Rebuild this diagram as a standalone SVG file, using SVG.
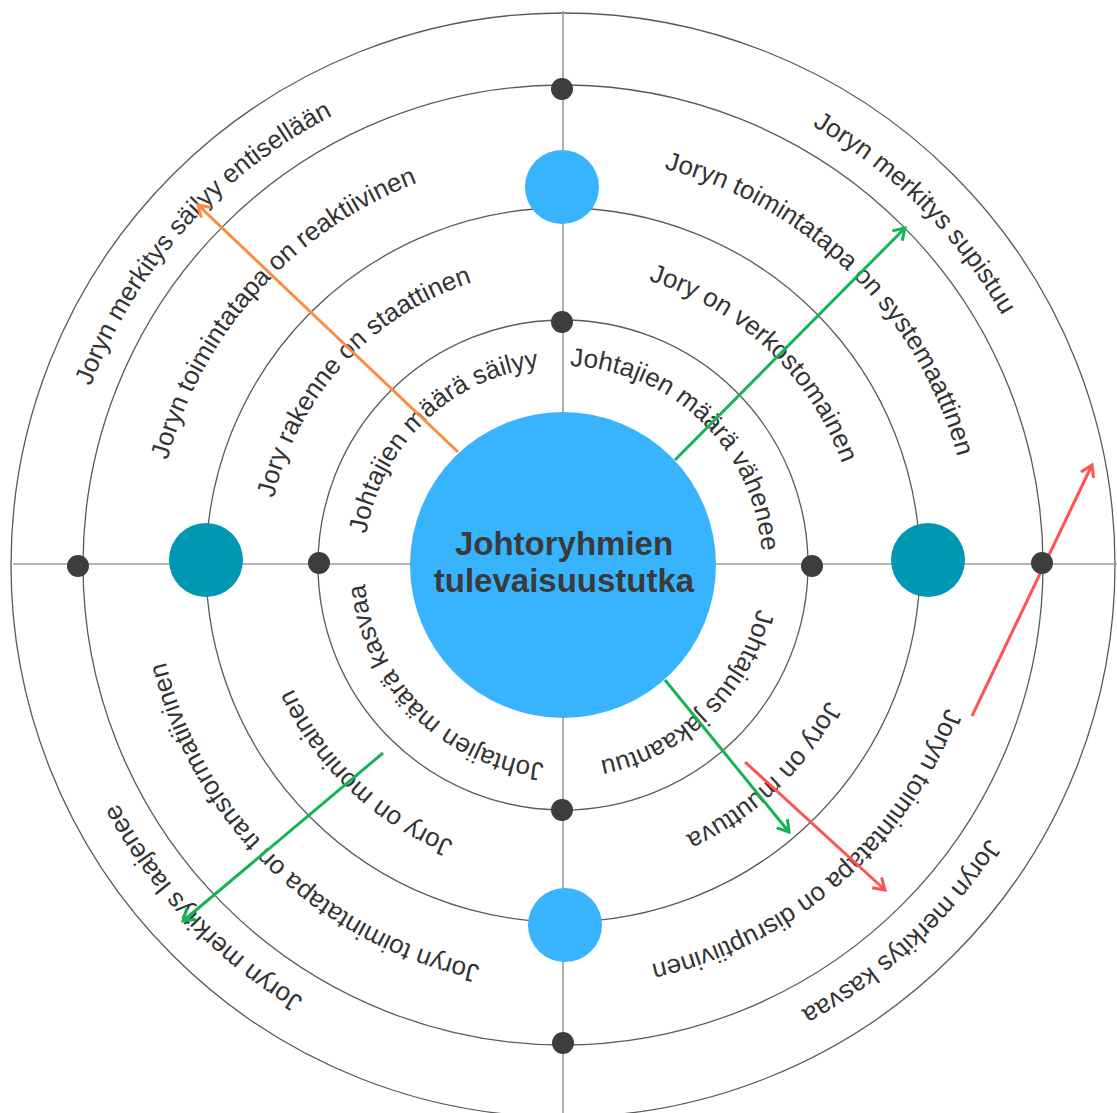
<svg xmlns="http://www.w3.org/2000/svg" xmlns:xlink="http://www.w3.org/1999/xlink" width="1117" height="1113" viewBox="0 0 1117 1113">
<style>
.ring{fill:none;stroke:#5a5a5a;stroke-width:1.3}
.axis{stroke:#9a9a9a;stroke-width:1.6}
.lbl{font-family:"Liberation Sans",Arial,sans-serif;font-size:26px;fill:#333}
.title{font-family:"Liberation Sans",Arial,sans-serif;font-size:33px;font-weight:bold;fill:#3a3a3a}
.dot{fill:#3d3d3d}
.teal{fill:#0097b2}
.blue{fill:#38b4ff}
.arr{stroke-width:3;fill:none}
</style>
<defs>
<path id="r1" d="M364,565 A199,199 0 0 1 762,565"/>
<path id="r2" d="M266,565 A297,297 0 0 1 860,565"/>
<path id="r3" d="M154,565 A409,409 0 0 1 972,565"/>
<path id="r4" d="M58,565 A505,505 0 0 1 1068,565"/>
<marker id="mo" markerUnits="userSpaceOnUse" markerWidth="18" markerHeight="18" refX="13" refY="8" orient="auto"><path d="M2,1 L13,8 L2,15" fill="none" stroke="#ff8a3d" stroke-width="3"/></marker>
<marker id="mg" markerUnits="userSpaceOnUse" markerWidth="18" markerHeight="18" refX="13" refY="8" orient="auto"><path d="M2,1 L13,8 L2,15" fill="none" stroke="#13b356" stroke-width="3"/></marker>
<marker id="mr" markerUnits="userSpaceOnUse" markerWidth="18" markerHeight="18" refX="13" refY="8" orient="auto"><path d="M2,1 L13,8 L2,15" fill="none" stroke="#ff5252" stroke-width="3"/></marker>
</defs>
<rect width="1117" height="1113" fill="#fff"/>
<g id="grid">
<circle class="ring" cx="563" cy="565" r="552"/>
<circle class="ring" cx="563" cy="565" r="480"/>
<circle class="ring" cx="563" cy="565" r="357"/>
<circle class="ring" cx="563" cy="565" r="245"/>
<line class="axis" x1="13" y1="564" x2="1117" y2="564"/>
<line class="axis" x1="563" y1="11" x2="563" y2="1113"/>
</g>
<g id="labels">
<text class="lbl" transform="rotate(-44 563 565)"><textPath href="#r1" startOffset="50%" text-anchor="middle">Johtajien määrä säilyy</textPath></text>
<text class="lbl" transform="rotate(44 563 565)"><textPath href="#r1" startOffset="50%" text-anchor="middle">Johtajien määrä vähenee</textPath></text>
<text class="lbl" transform="rotate(136 563 565)"><textPath href="#r1" startOffset="50%" text-anchor="middle">Johtajuus jakaantuu</textPath></text>
<text class="lbl" transform="rotate(-135 563 565)"><textPath href="#r1" startOffset="50%" text-anchor="middle">Johtajien määrä kasvaa</textPath></text>
<text class="lbl" transform="rotate(-47.4 563 565)"><textPath href="#r2" startOffset="50%" text-anchor="middle">Jory rakenne on staattinen</textPath></text>
<text class="lbl" transform="rotate(43.4 563 565)"><textPath href="#r2" startOffset="50%" text-anchor="middle">Jory on verkostomainen</textPath></text>
<text class="lbl" transform="rotate(136.4 563 565)"><textPath href="#r2" startOffset="50%" text-anchor="middle">Jory on muuttuva</textPath></text>
<text class="lbl" transform="rotate(-136.5 563 565)"><textPath href="#r2" startOffset="50%" text-anchor="middle">Jory on moninainen</textPath></text>
<text class="lbl" transform="rotate(-48 563 565)"><textPath href="#r3" startOffset="50%" text-anchor="middle">Joryn toimintatapa on reaktiivinen</textPath></text>
<text class="lbl" transform="rotate(44.5 563 565)"><textPath href="#r3" startOffset="50%" text-anchor="middle">Joryn toimintatapa on systemaattinen</textPath></text>
<text class="lbl" transform="rotate(139 563 565)"><textPath href="#r3" startOffset="50%" text-anchor="middle">Joryn toimintatapa on disruptiivinen</textPath></text>
<text class="lbl" transform="rotate(-136 563 565)"><textPath href="#r3" startOffset="50%" text-anchor="middle">Joryn toimintatapa on transformatiivinen</textPath></text>
<text class="lbl" transform="rotate(-48.2 563 565)"><textPath href="#r4" startOffset="50%" text-anchor="middle">Joryn merkitys säilyy entisellään</textPath></text>
<text class="lbl" transform="rotate(45 563 565)"><textPath href="#r4" startOffset="50%" text-anchor="middle">Joryn merkitys supistuu</textPath></text>
<text class="lbl" transform="rotate(137.3 563 565)"><textPath href="#r4" startOffset="50%" text-anchor="middle">Joryn merkitys kasvaa</textPath></text>
<text class="lbl" transform="rotate(-133.6 563 565)"><textPath href="#r4" startOffset="50%" text-anchor="middle">Joryn merkitys laajenee</textPath></text>
</g>
<g id="connectors">
<line class="arr" x1="458" y1="452" x2="198" y2="205" stroke="#ff8a3d" marker-end="url(#mo)"/>
<line class="arr" x1="675" y1="460" x2="905" y2="228" stroke="#13b356" marker-end="url(#mg)"/>
<line class="arr" x1="665" y1="680" x2="789" y2="832" stroke="#13b356" marker-end="url(#mg)"/>
<line class="arr" x1="383" y1="753" x2="183" y2="921" stroke="#13b356" marker-end="url(#mg)"/>
<line class="arr" x1="745" y1="762" x2="885" y2="890" stroke="#ff5252" marker-end="url(#mr)"/>
<line class="arr" x1="972" y1="716" x2="1092" y2="465" stroke="#ff5252" marker-end="url(#mr)"/>
</g>
<g id="center">
<circle class="blue" cx="563" cy="565" r="153"/>
<text class="title" x="564" y="555" text-anchor="middle">Johtoryhmien</text>
<text class="title" x="564" y="592" text-anchor="middle">tulevaisuustutka</text>
</g>
<g id="node-top"><circle class="blue" cx="562" cy="187" r="37"/></g>
<g id="node-bottom"><circle class="blue" cx="565" cy="925" r="37"/></g>
<g id="node-left"><circle class="teal" cx="206" cy="560" r="37"/></g>
<g id="node-right"><circle class="teal" cx="928" cy="560" r="37"/></g>
<g id="dot-t3"><circle class="dot" cx="562" cy="89" r="11"/></g>
<g id="dot-t1"><circle class="dot" cx="562" cy="322" r="11"/></g>
<g id="dot-l3"><circle class="dot" cx="78" cy="566" r="11"/></g>
<g id="dot-l1"><circle class="dot" cx="319" cy="563" r="11"/></g>
<g id="dot-r1"><circle class="dot" cx="812" cy="566" r="11"/></g>
<g id="dot-r3"><circle class="dot" cx="1042" cy="563" r="11"/></g>
<g id="dot-b1"><circle class="dot" cx="562" cy="810" r="11"/></g>
<g id="dot-b3"><circle class="dot" cx="563" cy="1043" r="11"/></g>
</svg>
